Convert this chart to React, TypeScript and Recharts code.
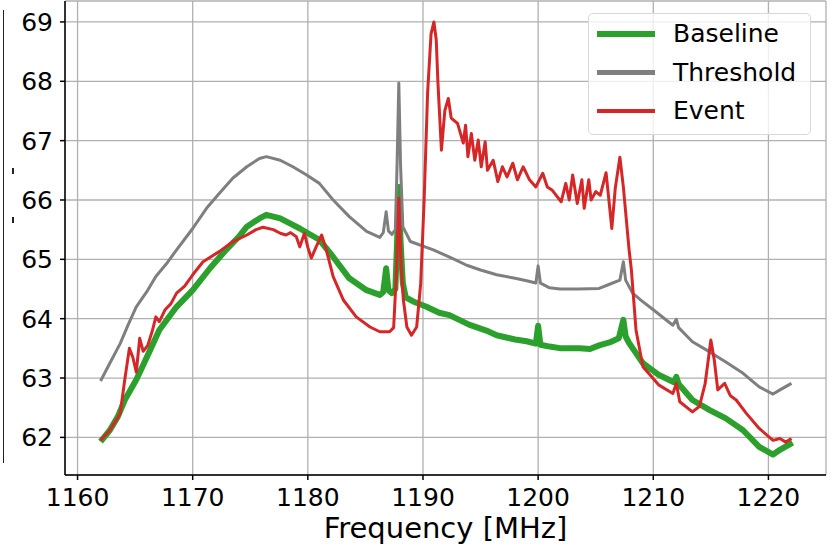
import { LineChart, Line, XAxis, YAxis, CartesianGrid, Label } from 'recharts'

const baselineFreq = [
    1162.0, 1162.8, 1163.5, 1164.1, 1165.1, 1165.7, 1166.3, 1167.1, 1168.6, 1170.0,
    1171.5, 1172.9, 1174.0, 1174.7, 1175.8, 1176.4, 1177.6, 1178.7, 1179.3, 1181.0,
    1182.2, 1183.6, 1185.1, 1186.25, 1186.55, 1186.8, 1187.0, 1187.3, 1187.6,
    1187.75, 1187.9, 1188.05, 1188.25, 1188.5, 1189.15, 1190.3, 1191.4, 1192.3, 1194.0,
    1195.5, 1196.4, 1198.0, 1199.0, 1199.8, 1200.0, 1200.2, 1201.0, 1202.0, 1203.6,
    1204.5, 1205.3, 1206.2, 1207.0, 1207.4, 1207.6, 1207.9, 1208.5, 1209.1, 1210.5,
    1211.8, 1212.0, 1212.2, 1213.4, 1214.9, 1216.3, 1217.8, 1219.2, 1220.4, 1221.0,
    1222.1,
]
const baselineVal = [
    61.93, 62.12, 62.35, 62.63, 62.97, 63.22, 63.47, 63.81, 64.2, 64.48,
    64.85, 65.16, 65.38, 65.55, 65.69, 65.75, 65.69, 65.58, 65.52, 65.33,
    65.04, 64.68, 64.48, 64.4, 64.45, 64.85, 64.48, 64.43, 64.5,
    65.3, 66.22, 65.3, 64.6, 64.36, 64.29, 64.2, 64.1, 64.06, 63.9,
    63.8, 63.72, 63.65, 63.62, 63.58, 63.88, 63.56, 63.53, 63.5, 63.5,
    63.49, 63.55, 63.6, 63.67, 63.98, 63.7, 63.59, 63.42, 63.25, 63.05,
    62.93, 63.02, 62.9, 62.63, 62.46, 62.32, 62.12, 61.84, 61.71, 61.79,
    61.91,
]

const thresholdFreq = [
    1162.0, 1162.8, 1163.7, 1164.4, 1165.1, 1166.0, 1166.8, 1167.7, 1168.6, 1170.0,
    1171.2, 1172.3, 1173.5, 1174.7, 1175.8, 1176.4, 1177.6, 1178.7, 1179.9, 1181.0,
    1182.2, 1183.6, 1185.1, 1186.25, 1186.55, 1186.8, 1187.0, 1187.3, 1187.6,
    1187.75, 1187.9, 1188.05, 1188.25, 1188.9, 1190.9, 1192.5, 1193.8, 1195.0,
    1196.4, 1198.0, 1199.0, 1199.8, 1200.0, 1200.2, 1201.0, 1201.9, 1203.5, 1205.3,
    1206.2, 1207.1, 1207.4, 1207.6, 1208.2, 1209.0, 1210.0, 1211.7, 1212.0, 1212.2,
    1213.4, 1214.9, 1216.3, 1217.8, 1219.2, 1220.4, 1221.0, 1222.0,
]
const thresholdVal = [
    62.95, 63.25, 63.58, 63.9, 64.2, 64.45, 64.71, 64.92, 65.16, 65.52,
    65.86, 66.11, 66.37, 66.56, 66.7, 66.73, 66.67, 66.56, 66.42, 66.28,
    66.0, 65.72, 65.47, 65.37, 65.45, 65.8, 65.48, 65.42, 65.5,
    66.6, 67.97, 66.6, 65.55, 65.3, 65.16, 65.02, 64.9, 64.82,
    64.74, 64.68, 64.64, 64.6, 64.89, 64.6, 64.52, 64.5, 64.5, 64.51,
    64.58, 64.65, 64.96, 64.65, 64.43, 64.3, 64.15, 63.89, 63.99, 63.85,
    63.61, 63.44, 63.27, 63.08, 62.85, 62.73, 62.8, 62.91,
]

const eventFreq = [
    1162.0, 1162.8, 1163.7, 1164.1, 1164.5, 1164.8, 1165.1, 1165.4, 1165.7, 1166.1,
    1166.5, 1166.8, 1167.1, 1167.6, 1168.1, 1168.6, 1169.3, 1170.0, 1170.9, 1172.3,
    1173.5, 1174.7, 1175.5, 1176.1, 1177.0, 1177.6, 1178.1, 1178.5, 1179.0, 1179.3,
    1179.7, 1180.0, 1180.3, 1180.7, 1181.2, 1181.6, 1182.2, 1183.1, 1184.2, 1185.4,
    1186.25, 1187.1, 1187.45, 1187.7, 1187.9, 1188.1, 1188.3, 1188.6, 1189.0, 1189.45,
    1189.8, 1190.1, 1190.4, 1190.7, 1190.95, 1191.15, 1191.3,
    1191.6, 1191.9, 1192.2, 1192.45, 1193.0, 1193.5, 1193.7, 1193.9, 1194.2, 1194.5,
    1194.8, 1195.06, 1195.4, 1195.6, 1196.1, 1196.5, 1196.9, 1197.3, 1197.8, 1198.2,
    1198.7, 1199.25, 1199.8, 1200.4, 1200.8, 1201.2, 1202.0, 1202.4, 1202.7, 1203.0,
    1203.4, 1203.8, 1204.0, 1204.4, 1204.6, 1205.0, 1205.4, 1205.9, 1206.4, 1206.7,
    1207.1, 1207.4, 1207.9, 1208.1, 1208.5, 1209.1, 1210.5, 1211.7, 1212.0, 1212.3,
    1213.4, 1214.0, 1214.5, 1215.0, 1215.3, 1215.6, 1216.2, 1216.7, 1217.2, 1218.1,
    1219.2, 1220.4, 1221.0, 1221.5, 1222.0,
]
const eventVal = [
    61.95, 62.12, 62.4, 62.97, 63.5, 63.35, 63.1, 63.67, 63.45, 63.55,
    63.8, 64.03, 63.95, 64.15, 64.25, 64.43, 64.55, 64.74, 64.96, 65.13,
    65.3, 65.41, 65.5, 65.54, 65.5, 65.44, 65.41, 65.45, 65.38, 65.21,
    65.44, 65.2, 65.02, 65.2, 65.41, 65.16, 64.71, 64.31, 64.03, 63.86,
    63.78, 63.78, 63.85, 64.8, 66.03, 64.9, 64.31, 63.86, 63.72, 63.86,
    64.59, 66.0, 67.8, 68.8, 69.0, 68.7, 67.97,
    66.84, 67.51, 67.71, 67.38, 67.29, 66.96, 67.26, 66.73, 67.12, 66.67,
    67.01, 66.56, 66.98, 66.5, 66.67, 66.31, 66.56, 66.39, 66.62, 66.34,
    66.56, 66.34, 66.22, 66.45, 66.22, 66.17, 65.97, 66.28, 66.0, 66.42,
    65.94, 66.34, 65.86, 66.34, 66.0, 66.14, 66.08, 66.46, 65.52, 66.2,
    66.72, 66.22, 65.16, 64.82, 63.81, 63.19, 62.88, 62.74, 62.91, 62.6,
    62.43, 62.52, 62.9, 63.64, 63.3, 62.8, 62.91, 62.7, 62.63, 62.4,
    62.15, 61.95, 61.98, 61.92, 61.98,
]

const xTicks = [1160, 1170, 1180, 1190, 1200, 1210, 1220]
const yTicks = [62, 63, 64, 65, 66, 67, 68, 69]

const GREEN = '#2ca02c'
const GRAY = '#7f7f7f'
const RED = '#d62728'
const FONT = '"DejaVu Sans", sans-serif'

function toPoints(freq: number[], val: number[]) {
    return freq.map((f, i) => ({ f, v: val[i] }))
}

const legendItems = [
    { name: 'Baseline', color: GREEN, width: 6 },
    { name: 'Threshold', color: GRAY, width: 4.5 },
    { name: 'Event', color: RED, width: 3.5 },
]

function ChartLegend() {
    return (
        <div style={{
            position: 'absolute', left: 588, top: 13, width: 223, height: 122,
            background: 'rgba(255,255,255,0.8)', border: '1px solid #d8d8d8', borderRadius: 5,
            boxSizing: 'border-box', fontFamily: FONT, fontSize: 25,
        }}>
            {legendItems.map((item, i) => (
                <div key={item.name} style={{ position: 'absolute', left: 0, top: 20 + i * 38.5 - 15, height: 30 }}>
                    <div style={{ position: 'absolute', left: 8, top: 15 - item.width / 2, width: 58, height: item.width, background: item.color }} />
                    <span style={{ position: 'absolute', left: 84, top: 0, lineHeight: '30px', whiteSpace: 'nowrap', color: '#000' }}>{item.name}</span>
                </div>
            ))}
        </div>
    )
}

export default function App() {
    const axisStroke = { stroke: '#000', strokeWidth: 1.5 }
    const tickStyle = { fontSize: 25, fill: '#000', fontFamily: FONT }
    return (
        <div style={{ position: 'absolute', left: 0, top: 0, width: 838, height: 546, background: '#fff', fontFamily: FONT }}>
            {/* edge of the neighbouring subplot, cut off */}
            <div style={{ position: 'absolute', left: 3, top: 10, width: 0, height: 453, borderLeft: '1.5px solid #222' }} />
            <div style={{ position: 'absolute', left: 12, top: 168, width: 2, height: 6, background: '#222' }} />
            <div style={{ position: 'absolute', left: 12, top: 217, width: 2, height: 6, background: '#222' }} />
            <LineChart width={838} height={546} margin={{ top: 1, right: 12, left: 0, bottom: 0 }}>
                <CartesianGrid stroke="#b0b0b0" strokeWidth={1.3} />
                <XAxis
                    dataKey="f"
                    type="number"
                    domain={[1158.91, 1225.0]}
                    ticks={xTicks}
                    allowDataOverflow
                    height={71}
                    tick={tickStyle}
                    tickSize={5}
                    tickMargin={8}
                    axisLine={axisStroke}
                    tickLine={axisStroke}
                >
                    <Label value="Frequency [MHz]" position="insideBottom" offset={8} style={{ fontSize: 29, fill: '#000', fontFamily: FONT }} />
                </XAxis>
                <XAxis xAxisId="top" orientation="top" type="number" domain={[1158.91, 1225.0]} height={0} tick={false} tickLine={false} axisLine={axisStroke} />
                <YAxis
                    type="number"
                    domain={[61.366, 69.353]}
                    ticks={yTicks}
                    allowDataOverflow
                    width={65}
                    tick={tickStyle}
                    tickSize={5}
                    tickMargin={7}
                    axisLine={axisStroke}
                    tickLine={axisStroke}
                />
                <YAxis yAxisId="right" orientation="right" type="number" domain={[61.366, 69.353]} width={0} tick={false} tickLine={false} axisLine={axisStroke} />
                <Line data={toPoints(baselineFreq, baselineVal)} dataKey="v" type="linear" stroke={GREEN} strokeWidth={6} dot={false} strokeLinejoin="round" isAnimationActive={false} />
                <Line data={toPoints(thresholdFreq, thresholdVal)} dataKey="v" type="linear" stroke={GRAY} strokeWidth={3} dot={false} strokeLinejoin="round" isAnimationActive={false} />
                <Line data={toPoints(eventFreq, eventVal)} dataKey="v" type="linear" stroke={RED} strokeWidth={3} dot={false} strokeLinejoin="round" isAnimationActive={false} />
            </LineChart>
            <ChartLegend />
        </div>
    )
}
